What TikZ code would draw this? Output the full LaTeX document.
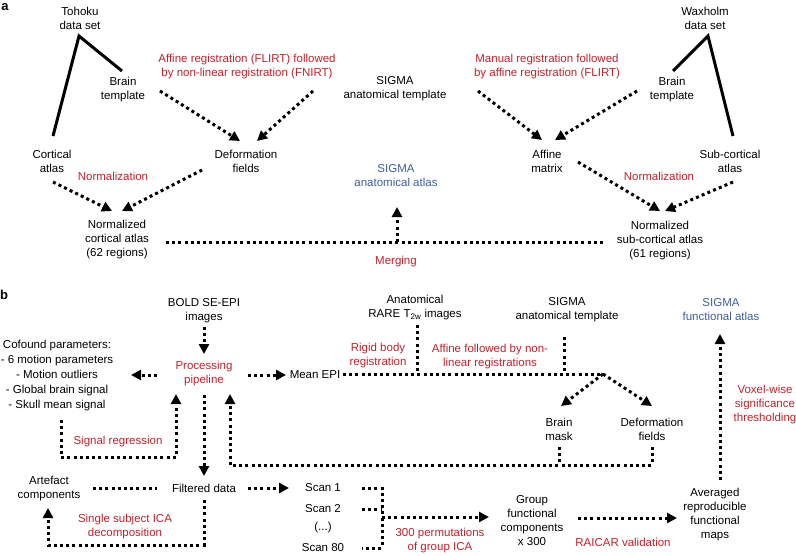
\documentclass[tikz,border=0pt]{standalone}
\usepackage{fontspec}
\setmainfont{Liberation Sans}
\usetikzlibrary{arrows.meta,calc}
\definecolor{myred}{RGB}{196,32,42}
\definecolor{myblue}{RGB}{62,94,160}
\begin{document}
\begin{tikzpicture}[x=1pt,y=-1pt,
 txt/.style={align=center, inner sep=0pt, font=\fontsize{11.5}{14}\selectfont},
 rtxt/.style={txt, text=myred},
 btxt/.style={txt, text=myblue},
 panel/.style={inner sep=0pt, font=\bfseries\fontsize{13}{14}\selectfont},
 dotline/.style={line width=3pt, dash pattern=on 3pt off 3.2pt},
 dotarrow/.style={dotline, -{Triangle[length=10pt,width=10pt]}},
 solidline/.style={line width=3pt, line join=miter}]
\useasboundingbox (0,0) rectangle (796,555);
% ---------- panel a ----------
\node[panel] (la) at (5,7) {a};
\node[txt] (toh) at (80,18) {Tohoku\\data set};
\node[txt] (btl) at (123,90) {Brain\\template};
\node[rtxt] (r1) at (247,67) {Affine registration (FLIRT) followed\\by non-linear registration (FNIRT)};
\node[txt] (sat) at (395,89) {SIGMA\\anatomical template};
\node[rtxt] (r2) at (547,67) {Manual registration followed\\by affine registration (FLIRT)};
\node[txt] (btr) at (672,90) {Brain\\template};
\node[txt] (wax) at (705,18) {Waxholm\\data set};
\node[txt] (cort) at (52,161) {Cortical\\atlas};
\node[txt] (def) at (246,161) {Deformation\\fields};
\node[btxt] (saa) at (396,176) {SIGMA\\anatomical atlas};
\node[txt] (aff) at (547,161) {Affine\\matrix};
\node[txt] (sub) at (730,161) {Sub-cortical\\atlas};
\node[rtxt] (n1) at (113,176) {Normalization};
\node[rtxt] (n2) at (659,176) {Normalization};
\node[txt] (nca) at (117,240) {Normalized\\cortical atlas\\(62 regions)};
\node[txt] (nsa) at (660,241) {Normalized\\sub-cortical atlas\\(61 regions)};
\node[rtxt] (merg) at (396,262) {Merging};

\coordinate (tohL) at (53,136);
\coordinate (tohA) at (79,36);
\coordinate (tohR) at (122,71);
\coordinate (waxL) at (673,71);
\coordinate (waxA) at (708,36);
\coordinate (waxR) at (733,136);
\draw[solidline] (tohL) -- (tohA) -- (tohR);
\draw[solidline] (waxL) -- (waxA) -- (waxR);

\coordinate (a1s) at (160,91);  \coordinate (a1e) at (240,141);
\coordinate (a2s) at (313,91);  \coordinate (a2e) at (257,141);
\coordinate (a3s) at (478,91);  \coordinate (a3e) at (542,140);
\coordinate (a4s) at (637,91);  \coordinate (a4e) at (555,140);
\coordinate (a5s) at (53,182);  \coordinate (a5e) at (112,211);
\coordinate (a6s) at (202,170); \coordinate (a6e) at (122,211);
\coordinate (a7s) at (578,162); \coordinate (a7e) at (660,211);
\coordinate (a8s) at (733,182); \coordinate (a8e) at (665,211);
\draw[dotarrow] (a1s) -- (a1e);
\draw[dotarrow] (a2s) -- (a2e);
\draw[dotarrow] (a3s) -- (a3e);
\draw[dotarrow] (a4s) -- (a4e);
\draw[dotarrow] (a5s) -- (a5e);
\draw[dotarrow] (a6s) -- (a6e);
\draw[dotarrow] (a7s) -- (a7e);
\draw[dotarrow] (a8s) -- (a8e);
\coordinate (mL) at (166,242); \coordinate (mR) at (603,242); \coordinate (mM) at (397,242);
\coordinate (mT) at (397,207);
\draw[dotline] (mL) -- (mR);
\draw[dotarrow] (mM) -- (mT);

% ---------- panel b ----------
\node[panel] (lb) at (4,295) {b};
\node[txt] (bold) at (204,311) {BOLD SE-EPI\\images};
\node[rtxt] (pp) at (204,374) {Processing\\pipeline};
\node[txt, font=\fontsize{11.5}{15}\selectfont] (cof) at (57,376) {Cofound parameters:\\- 6 motion parameters\\- Motion outliers\\- Global brain signal\\- Skull mean signal};
\node[txt] (mean) at (315,375) {Mean EPI};
\node[txt] (anat) at (415,308) {Anatomical\\RARE T\textsubscript{2w} images};
\node[rtxt] (rig) at (378,356) {Rigid body\\registration};
\node[rtxt] (affr) at (490,357) {Affine followed by non-\\linear registrations};
\node[txt] (sat2) at (567,310) {SIGMA\\anatomical template};
\node[btxt] (sfa) at (721,310) {SIGMA\\functional atlas};
\node[rtxt] (vox) at (765,405) {Voxel-wise\\significance\\thresholding};
\node[txt] (bm) at (559,429) {Brain\\mask};
\node[txt] (df2) at (652,429) {Deformation\\fields};
\node[rtxt] (sr) at (118,442) {Signal regression};
\node[txt] (art) at (49,489) {Artefact\\components};
\node[txt] (fd) at (204,488) {Filtered data};
\node[txt] (s1) at (323,488) {Scan 1};
\node[txt] (s2) at (323,509) {Scan 2};
\node[txt] (sd) at (323,528) {(...)};
\node[txt] (s80) at (323,548) {Scan 80};
\node[rtxt] (ssica) at (125,527) {Single subject ICA\\decomposition};
\node[rtxt] (perm) at (440,541) {300 permutations\\of group ICA};
\node[txt] (gfc) at (532,521) {Group\\functional\\components\\x 300};
\node[rtxt] (raicar) at (623,542) {RAICAR validation};
\node[txt] (avg) at (715,515) {Averaged\\reproducible\\functional\\maps};

\coordinate (boldB) at (204,327); \coordinate (ppT) at (204,354);
\draw[dotarrow] (boldB) -- (ppT);
\coordinate (ppL) at (157,375); \coordinate (cofR) at (131,375);
\draw[dotarrow] (ppL) -- (cofR);
\coordinate (ppR) at (248,375); \coordinate (meanL) at (286,375);
\draw[dotarrow] (ppR) -- (meanL);
\coordinate (meanR) at (343,374); \coordinate (br) at (603,374);
\coordinate (anJ) at (417,374); \coordinate (anB) at (417,325);
\coordinate (saJ) at (564,374); \coordinate (saB) at (564,337);
\draw[dotline] (meanR) -- (br);
\draw[dotline] (anB) -- (anJ);
\draw[dotline] (saB) -- (saJ);
\coordinate (bmT) at (561,406); \coordinate (dfT) at (652,406);
\draw[dotarrow] (br) -- (bmT);
\draw[dotarrow] (br) -- (dfT);
\coordinate (bmB) at (559,447); \coordinate (bmJ) at (559,465);
\coordinate (dfB) at (652,447); \coordinate (dfJ) at (652,465);
\coordinate (lpJ) at (230,465); \coordinate (lpT) at (230,394);
\draw[dotline] (bmB) -- (bmJ);
\draw[dotarrow] (dfB) -- (dfJ) -- (lpJ) -- (lpT);
\coordinate (cofB) at (61,420); \coordinate (srA) at (61,457);
\coordinate (srB) at (176,457); \coordinate (srT) at (176,394);
\draw[dotarrow] (cofB) -- (srA) -- (srB) -- (srT);
\coordinate (ppB) at (204,395); \coordinate (fdT) at (204,476);
\draw[dotarrow] (ppB) -- (fdT);
\coordinate (artR) at (93,488); \coordinate (fdL) at (157,488);
\draw[dotline] (artR) -- (fdL);
\coordinate (fdR) at (248,488); \coordinate (s1L) at (289,488);
\draw[dotarrow] (fdR) -- (s1L);
\coordinate (fdB) at (204,500); \coordinate (icA) at (204,545);
\coordinate (icB) at (48,545); \coordinate (artB) at (48,508);
\draw[dotarrow] (fdB) -- (icA) -- (icB) -- (artB);
\coordinate (s1R) at (362,488); \coordinate (s1J) at (382,488);
\coordinate (s2R) at (362,509); \coordinate (s2J) at (382,509);
\coordinate (s80R) at (362,548); \coordinate (s80J) at (382,548);
\coordinate (scJ) at (382,517); \coordinate (gfcL) at (489,517);
\draw[dotline] (s1R) -- (s1J) -- (s80J) -- (s80R);
\draw[dotline] (s2R) -- (s2J);
\draw[dotarrow] (scJ) -- (gfcL);
\coordinate (gfcR) at (578,518); \coordinate (avgL) at (677,518);
\draw[dotarrow] (gfcR) -- (avgL);
\coordinate (avgT) at (720,480); \coordinate (sfaB) at (720,334);
\draw[dotarrow] (avgT) -- (sfaB);
\end{tikzpicture}
\end{document}
